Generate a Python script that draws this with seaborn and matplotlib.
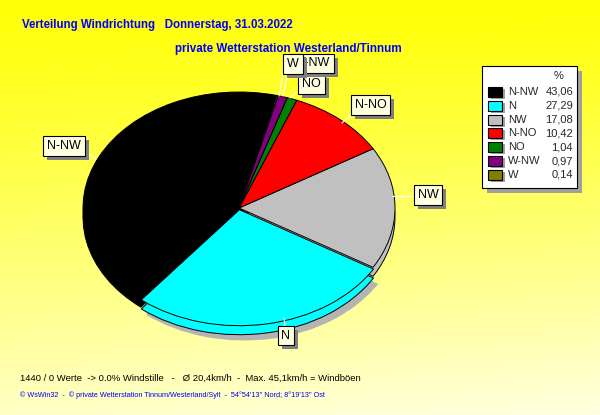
import numpy as np
import matplotlib
matplotlib.use("Agg")
import matplotlib.pyplot as plt
from matplotlib.patches import Rectangle
import seaborn as sns

# ---------------- data ----------------
directions = ["N-NW", "N", "NW", "N-NO", "NO", "W-NW", "W"]
percent = [43.06, 27.29, 17.08, 10.42, 1.04, 0.97, 0.14]
colors = ["#000000", "#00FFFF", "#C0C0C0", "#FF0000", "#008000", "#800080", "#808000"]
title_1 = "Verteilung Windrichtung   Donnerstag, 31.03.2022"
title_2 = "private Wetterstation Westerland/Tinnum"
footer_1 = "1440 / 0 Werte  -> 0.0% Windstille   -   \u00d8 20,4km/h  -  Max. 45,1km/h = Windb\u00f6en"
footer_2 = "\u00a9 WsWin32  -  \u00a9 private Wetterstation Tinnum/Westerland/Sylt  -  54\u00b054'13'' Nord; 8\u00b019'13'' Ost"

sns.set_theme(style="white")
plt.rcParams["font.family"] = ["Liberation Sans", "DejaVu Sans"]

W, H = 600, 415
fig = plt.figure(figsize=(6.0, 4.15), dpi=100)

# ---------------- background gradient ----------------
bg = fig.add_axes([0, 0, 1, 1], zorder=0)
yy, xx = np.mgrid[0:H, 0:W]
t = np.clip(0.82 * (yy / H) ** 1.15 + 0.12 * (xx / W) * (yy / H), 0, 1)
img = np.dstack([np.ones_like(t), np.ones_like(t), 0.02 + 0.92 * t])
bg.imshow(img, extent=(0, W, H, 0), aspect="auto", interpolation="bilinear")
bg.set_xlim(0, W); bg.set_ylim(H, 0); bg.axis("off")

# ---------------- pie (elliptical, with depth) ----------------
cx, cy, rx, ry = 239, 208, 156, 116
lim = 1.3
ax = fig.add_axes([(cx - rx * lim) / W, (H - cy - ry * lim) / H,
                   2 * rx * lim / W, 2 * ry * lim / H], zorder=1)
explode = [0, 0.015, 0, 0, 0, 0, 0]
start = 76
depth = 9 / ry
# shadow of the front slice
shadow_cols = ["none", "#B4B4B4", "none", "none", "none", "none", "none"]
ax.pie(percent, colors=shadow_cols, startangle=start, explode=explode,
       center=(0.03, -depth - 0.05), wedgeprops=dict(linewidth=0))
# side (depth) copy
ax.pie(percent, colors=colors, startangle=start, explode=explode,
       center=(0, -depth), wedgeprops=dict(edgecolor="black", linewidth=0.7))
# top
ax.pie(percent, colors=colors, startangle=start, explode=explode,
       wedgeprops=dict(edgecolor="black", linewidth=0.7))
ax.set_aspect("auto")
ax.set_xlim(-lim, lim); ax.set_ylim(-lim, lim)
ax.axis("off")

# ---------------- overlay in pixel coordinates ----------------
ov = fig.add_axes([0, 0, 1, 1], zorder=2)
ov.set_xlim(0, W); ov.set_ylim(H, 0); ov.axis("off"); ov.patch.set_alpha(0)

blue = "#0000FF"
ov.text(22, 25, title_1, color=blue, fontsize=8.3, fontweight="bold",
        ha="left", va="center")
ov.text(175, 49, title_2, color=blue, fontsize=8.4, fontweight="bold",
        ha="left", va="center")

ov.text(20, 378, footer_1, color="black", fontsize=6.8, ha="left", va="center")
ov.text(20, 395, footer_2, color=blue, fontsize=5.2, ha="left", va="center")

# leader lines (white)
leaders = [((86, 152), (96, 159)), ((285, 326), (284, 318)), ((412, 196), (392, 196)),
           ((352, 114), (342, 123)), ((297, 92), (290, 98)), ((288, 72), (283, 96)),
           ((283, 73), (279, 96))]
for (x0, y0), (x1, y1) in leaders:
    ov.plot([x0, x1], [y0, y1], color="white", lw=0.8, zorder=3)

# slice labels with box and drop shadow
label_pos = {"N-NW": (64, 146), "N": (286, 335.5), "NW": (428, 195),
             "N-NO": (370.5, 105), "NO": (311.5, 84), "W-NW": (312, 63.5), "W": (293, 64)}
order = ["N-NW", "N", "NW", "N-NO", "NO", "W-NW", "W"]
label_texts = []
z = 4
for name in order:
    x, y = label_pos[name]
    txt = ov.text(x, y, name, fontsize=9, ha="center", va="center", color="black",
                  bbox=dict(boxstyle="square,pad=0.3", fc="#FFFFE1", ec="black", lw=0.8),
                  zorder=z + 1)
    label_texts.append((txt, z))
    z += 2
fig.canvas.draw()
for txt, zz in label_texts:
    bb = txt.get_bbox_patch().get_window_extent()
    ov.add_patch(Rectangle((bb.x0 + 4, H - bb.y1 + 4), bb.width, bb.height,
                           fc="#808080", ec="none", zorder=zz))

# legend box
lx0, ly0, lx1, ly1 = 482, 66, 577, 188
ov.add_patch(Rectangle((lx0 + 5, ly0 + 5), lx1 - lx0, ly1 - ly0, fc="#A0A0A0", ec="none", zorder=20))
ov.add_patch(Rectangle((lx0, ly0), lx1 - lx0, ly1 - ly0, fc="white", ec="black", lw=0.8, zorder=21))
ov.text(559, 76, "%", fontsize=8, ha="center", va="center", zorder=22)
for i, (name, val, col) in enumerate(zip(directions, percent, colors)):
    yc = 92 + i * 13.8
    ov.add_patch(Rectangle((491, yc - 3), 14, 10, fc="#A0A0A0", ec="none", zorder=22))
    ov.add_patch(Rectangle((488, yc - 5), 14, 10, fc=col, ec="black", lw=0.8, zorder=23))
    ov.text(508, yc, name, fontsize=8, ha="left", va="center", zorder=23)
    ov.text(573, yc, f"{val:.2f}".replace(".", ","), fontsize=8, ha="right", va="center", zorder=23)

fig.savefig("out.png", dpi=100)
